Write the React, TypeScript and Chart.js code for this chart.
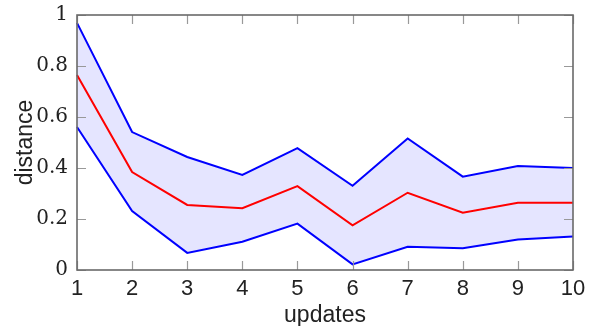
import React, { useEffect, useRef } from "react";
import { Chart, registerables } from "chart.js";

Chart.register(...registerables);

const categories = ["1", "2", "3", "4", "5", "6", "7", "8", "9", "10"];
const upperValues = [0.969, 0.541, 0.443, 0.373, 0.478, 0.33, 0.516, 0.366, 0.408, 0.4];
const meanValues = [0.765, 0.384, 0.255, 0.242, 0.329, 0.175, 0.303, 0.225, 0.264, 0.264];
const lowerValues = [0.561, 0.231, 0.067, 0.111, 0.182, 0.022, 0.091, 0.085, 0.12, 0.131];
const yTickValues = [0, 0.2, 0.4, 0.6, 0.8, 1];

const SANS = "'Liberation Sans', Arial, sans-serif";
const SERIF = "'DejaVu Serif', serif";

const frameTicks = {
  id: "frameTicks",
  afterDatasetsDraw(chart: any) {
    const { ctx, chartArea } = chart;
    const { left, right, top, bottom } = chartArea;
    const xs = chart.scales.x;
    const ys = chart.scales.y;
    const len = 9;
    ctx.save();
    ctx.strokeStyle = "#999999";
    ctx.lineWidth = 1.2;
    ctx.beginPath();
    categories.forEach((_, i) => {
      const px = Math.round(xs.getPixelForValue(i)) + 0.5;
      ctx.moveTo(px, bottom);
      ctx.lineTo(px, bottom - len);
      ctx.moveTo(px, top);
      ctx.lineTo(px, top + len);
    });
    yTickValues.forEach((v) => {
      const py = Math.round(ys.getPixelForValue(v)) + 0.5;
      ctx.moveTo(left, py);
      ctx.lineTo(left + len, py);
      ctx.moveTo(right, py);
      ctx.lineTo(right - len, py);
    });
    ctx.stroke();
    ctx.strokeStyle = "#6a6a6a";
    ctx.lineWidth = 1.6;
    ctx.strokeRect(left, top, right - left, bottom - top);
    ctx.restore();
  },
};

export default function App() {
  const ref = useRef<HTMLCanvasElement>(null);

  useEffect(() => {
    if (!ref.current) return;
    const chart = new Chart(ref.current, {
      type: "line",
      data: {
        labels: categories,
        datasets: [
          {
            label: "upper",
            data: upperValues,
            borderColor: "#0000ff",
            backgroundColor: "rgb(229,229,255)",
            borderWidth: 2,
            pointRadius: 0,
            tension: 0,
            fill: "+2",
          },
          {
            label: "mean",
            data: meanValues,
            borderColor: "#ff0000",
            borderWidth: 2,
            pointRadius: 0,
            tension: 0,
            fill: false,
          },
          {
            label: "lower",
            data: lowerValues,
            borderColor: "#0000ff",
            borderWidth: 2,
            pointRadius: 0,
            tension: 0,
            fill: false,
          },
        ],
      },
      options: {
        animation: false,
        responsive: false,
        layout: { padding: { top: 15, right: 27, left: 0, bottom: 0 } },
        plugins: {
          legend: { display: false },
          tooltip: { enabled: false },
          filler: { drawTime: "beforeDatasetsDraw" },
        },
        scales: {
          x: {
            type: "category",
            offset: false,
            grid: { display: false, drawTicks: false, tickLength: 0 },
            border: { display: false },
            ticks: {
              color: "#222222",
              font: { family: SANS, size: 22 },
              padding: 6,
              maxRotation: 0,
              autoSkip: false,
            },
            title: {
              display: true,
              text: "updates",
              color: "#222222",
              font: { family: SANS, size: 23 },
              padding: { top: 0, bottom: -3 },
            },
            afterFit: (s: any) => {
              s.height = 56;
              s.paddingLeft = 0;
              s.paddingRight = 0;
            },
          },
          y: {
            min: 0,
            max: 1,
            grid: { display: false, drawTicks: false, tickLength: 0 },
            border: { display: false },
            ticks: {
              stepSize: 0.2,
              color: "#222222",
              font: { family: SERIF, size: 20 },
              padding: 9,
              callback: (v: any) => String(Number(Number(v).toFixed(1))),
            },
            title: {
              display: true,
              text: "distance",
              color: "#222222",
              font: { family: SANS, size: 23 },
              padding: { top: 12, bottom: 0 },
            },
            afterFit: (s: any) => {
              s.width = 77;
              s.paddingTop = 0;
              s.paddingBottom = 0;
            },
          },
        },
      },
      plugins: [frameTicks],
    });
    return () => chart.destroy();
  }, []);

  return (
    <div style={{ position: "fixed", left: 0, top: 0, width: 600, height: 326, background: "#fff" }}>
      <canvas ref={ref} width={600} height={326} />
    </div>
  );
}
